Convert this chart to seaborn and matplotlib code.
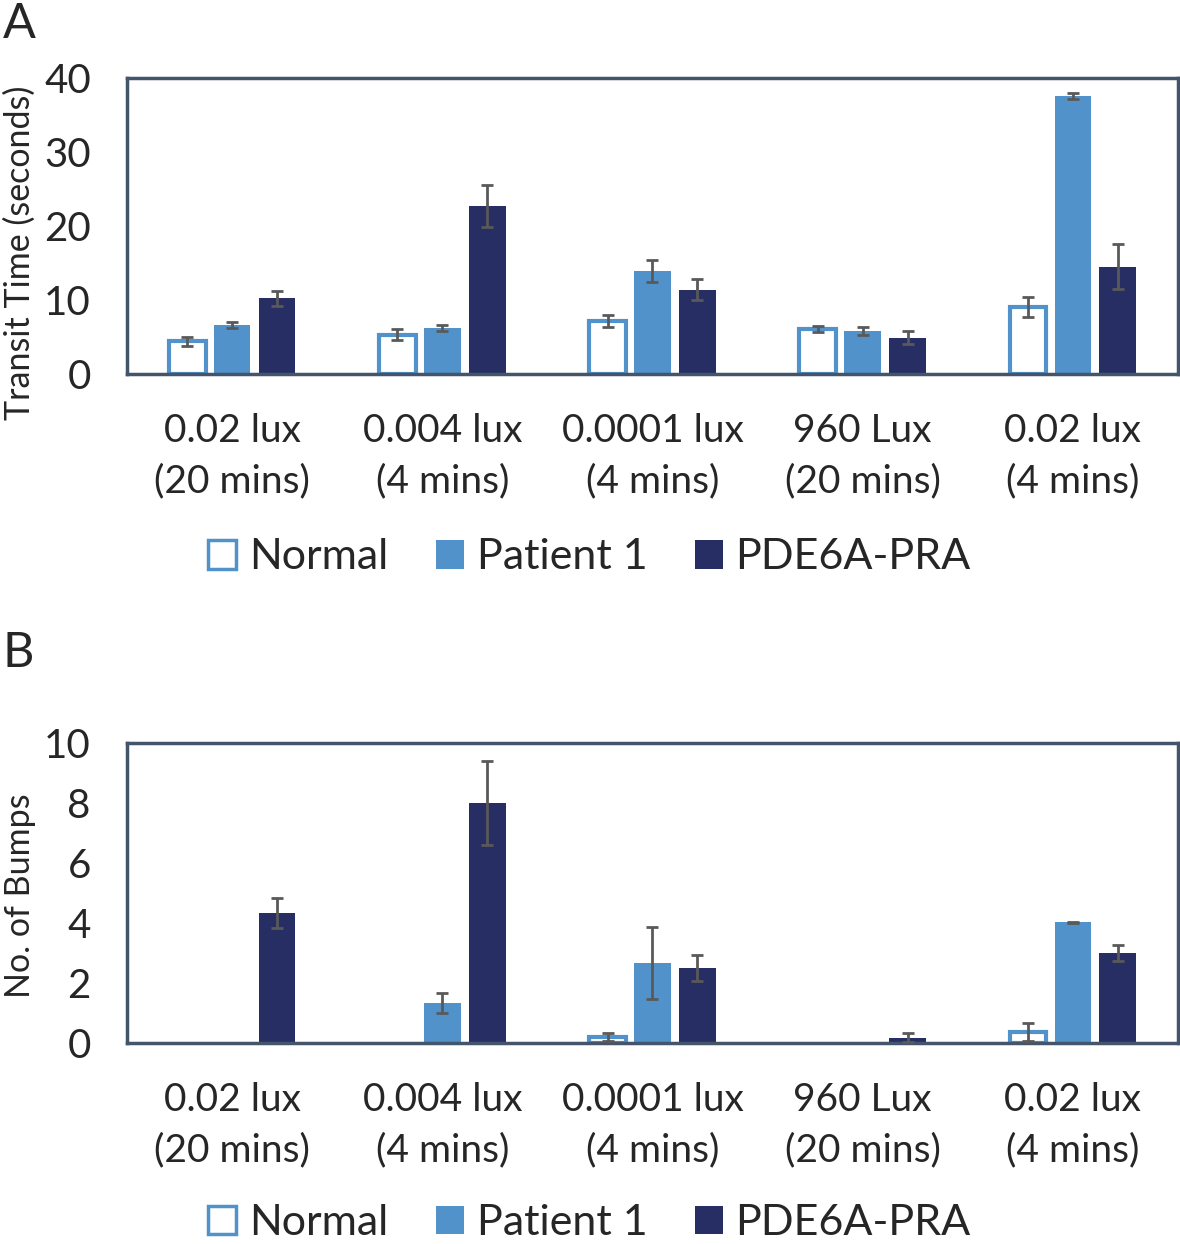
import numpy as np
import pandas as pd
import matplotlib
matplotlib.use("Agg")
import matplotlib.pyplot as plt
import seaborn as sns
from matplotlib.patches import Patch

# --- DATOS ---
categorias = ["0.02 lux\n(20 mins)", "0.004 lux\n(4 mins)", "0.0001 lux\n(4 mins)",
              "960 Lux\n(20 mins)", "0.02 lux\n(4 mins)"]
grupos = ["Normal", "Patient 1", "PDE6A-PRA"]

# Panel A: tiempo de transito (segundos)
transit_normal = [4.4, 5.3, 7.2, 6.1, 9.1]
transit_patient = [6.6, 6.2, 13.9, 5.8, 37.6]
transit_pde6a = [10.2, 22.7, 11.4, 4.9, 14.5]
transit_err_normal = [0.65, 0.75, 0.8, 0.4, 1.35]
transit_err_patient = [0.4, 0.4, 1.5, 0.5, 0.4]
transit_err_pde6a = [1.0, 2.9, 1.45, 0.9, 3.0]

# Panel B: numero de golpes
bumps_normal = [0.0, 0.0, 0.2, 0.0, 0.37]
bumps_patient = [0.0, 1.32, 2.65, 0.0, 4.02]
bumps_pde6a = [4.32, 7.99, 2.5, 0.17, 3.0]
bumps_err_normal = [0.0, 0.0, 0.12, 0.0, 0.3]
bumps_err_patient = [0.0, 0.33, 1.2, 0.0, 0.02]
bumps_err_pde6a = [0.5, 1.4, 0.42, 0.15, 0.27]

AZUL = "#5192CB"
MARINO = "#262E63"
SPINE = "#44546A"
ERRCOL = "#595959"
FUENTE = "Lato"


def tabla(normal, patient, pde6a, e_n, e_p, e_d):
    filas = []
    for vals, errs, g in [(normal, e_n, grupos[0]), (patient, e_p, grupos[1]), (pde6a, e_d, grupos[2])]:
        for c, v, e in zip(categorias, vals, errs):
            filas.append({"cat": c, "grupo": g, "valor": v, "err": e})
    return pd.DataFrame(filas)


def panel(ax, df, ymax, yticks, ylabel, label_y, leg_y):
    sns.barplot(data=df, x="cat", y="valor", hue="grupo", order=categorias,
                hue_order=grupos, palette=["white", AZUL, MARINO],
                width=0.64, gap=0.18, errorbar=None, legend=False, ax=ax,
                saturation=1)
    # barras en orden hue-mayor
    n = len(categorias)
    for i, bar in enumerate(ax.patches):
        g = grupos[i // n]
        c = categorias[i % n]
        fila = df[(df["grupo"] == g) & (df["cat"] == c)].iloc[0]
        if g == "Normal":
            bar.set_facecolor("white")
            bar.set_edgecolor(AZUL)
            bar.set_linewidth(3 if fila["valor"] > 0 else 0)
        else:
            bar.set_edgecolor("none")
        if fila["valor"] > 0:
            xc = bar.get_x() + bar.get_width() / 2
            ax.errorbar(xc, fila["valor"], yerr=fila["err"], color=ERRCOL,
                        capsize=4.3, elinewidth=2, capthick=2, zorder=5)
    ax.set_ylim(0, ymax)
    ax.set_yticks(yticks)
    ax.set_xlim(-0.5, n - 0.5)
    ax.set_xlabel("")
    ax.set_ylabel(ylabel, fontsize=24.5)
    ax.yaxis.set_label_coords(-0.0866, label_y)
    ax.tick_params(axis="y", length=0, pad=26, labelsize=29)
    ax.tick_params(axis="x", length=0, pad=28, labelsize=28)
    for t in ax.get_xticklabels():
        t.set_linespacing(1.5)
    for s in ax.spines.values():
        s.set_visible(True)
        s.set_color(SPINE)
        s.set_linewidth(2.5)
    handles = [Patch(facecolor="white", edgecolor=AZUL, linewidth=2.5, label="Normal"),
               Patch(facecolor=AZUL, edgecolor="none", label="Patient 1"),
               Patch(facecolor=MARINO, edgecolor="none", label="PDE6A-PRA")]
    ax.legend(handles=handles, loc="center", bbox_to_anchor=(0.44, leg_y), ncol=3,
              frameon=False, fontsize=31, handlelength=0.65, handleheight=0.65,
              handletextpad=0.3, columnspacing=1.1)


sns.set_style("white")
plt.rcParams["font.family"] = [FUENTE, "DejaVu Sans"]

fig = plt.figure(figsize=(11.8, 12.44), dpi=100)
ax_a = fig.add_axes([0.1076, 0.6994, 0.8907, 0.2379])
ax_b = fig.add_axes([0.1076, 0.1616, 0.8907, 0.2412])

df_a = tabla(transit_normal, transit_patient, transit_pde6a,
             transit_err_normal, transit_err_patient, transit_err_pde6a)
df_b = tabla(bumps_normal, bumps_patient, bumps_pde6a,
             bumps_err_normal, bumps_err_patient, bumps_err_pde6a)

panel(ax_a, df_a, 40, [0, 10, 20, 30, 40], "Transit Time (seconds)", 0.41, -0.62)
panel(ax_b, df_b, 10, [0, 2, 4, 6, 8, 10], "No. of Bumps", 0.49, -0.60)

fig.text(0.002, 0.9695, "A", fontsize=35, va="baseline", ha="left")
fig.text(0.002, 0.4638, "B", fontsize=35, va="baseline", ha="left")

fig.savefig("out.png", dpi=100, facecolor="white")
